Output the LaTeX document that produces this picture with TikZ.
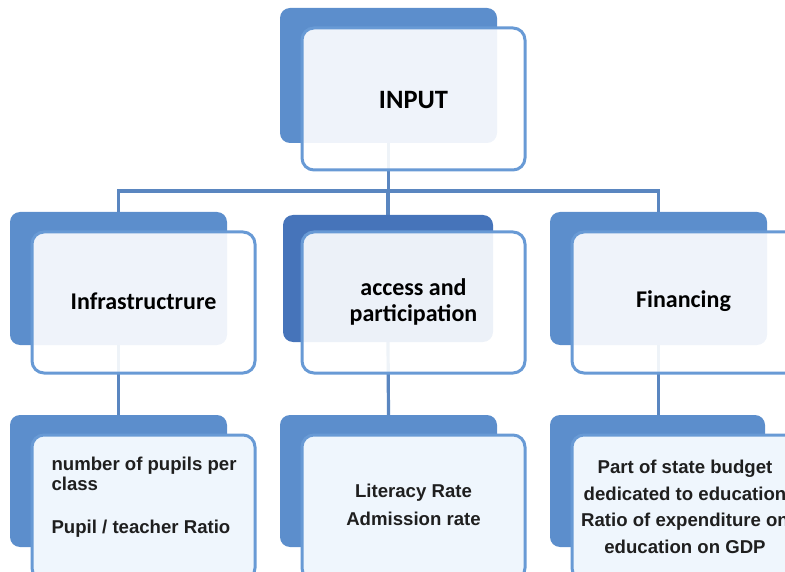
\documentclass[tikz,border=0pt]{standalone}
\usepackage{fontspec}
\setmainfont{Carlito}
\newfontfamily\arialb{Liberation Sans}
\begin{document}
\begin{tikzpicture}[x=1pt,y=-1pt]
\definecolor{backblue}{RGB}{92,142,204}
\definecolor{darkblue}{RGB}{70,116,186}
\definecolor{edgeblue}{RGB}{104,154,213}
\definecolor{linkblue}{RGB}{90,134,192}
\definecolor{paleblue}{RGB}{239,246,253}
\tikzset{
  backbox/.style={fill=backblue,draw=none,rounded corners=10pt},
  frontbox/.style={fill=white,fill opacity=0.9,draw=edgeblue,draw opacity=1,line width=3pt,rounded corners=12pt},
  lowbox/.style={fill=paleblue,draw=edgeblue,line width=3pt,rounded corners=12pt},
  conn/.style={draw=linkblue,line width=3.2pt},
  headtxt/.style={font=\bfseries\fontsize{24}{26}\selectfont,align=center,text=black},
  lowtxt/.style={font=\arialb\bfseries\fontsize{18.6}{27.5}\selectfont,align=center,text=black!88},
}
\useasboundingbox (0,0) rectangle (785,572);
\coordinate (hub) at (388,191);
\coordinate (tb) at (388.5,143);
\coordinate (lbs) at (118.5,345);
\coordinate (lbn) at (118.5,212);
\coordinate (mbs) at (388,342);
\coordinate (mbn) at (388,215);
\coordinate (rbs) at (658.5,345);
\coordinate (rbn) at (658.5,212);
\coordinate (l3n) at (118.5,415);
\coordinate (m3n) at (388.5,415);
\coordinate (r3n) at (658.5,415);
% connectors (drawn first, behind boxes)
\draw[conn] (tb) -- (tb |- hub);
\draw[conn,line cap=rect] (lbn |- hub) -- (rbn |- hub);
\draw[conn] (lbn |- hub) -- (lbn);
\draw[conn] (mbn |- hub) -- (mbn);
\draw[conn] (rbn |- hub) -- (rbn);
\draw[conn] (lbs) -- (l3n);
\draw[conn] (mbs) -- (m3n);
\draw[conn] (rbs) -- (r3n);
% top
\path[backbox] (280,8) rectangle (497,143);
\path[frontbox] (302,28) rectangle (525,170);
\node[headtxt,font=\bfseries\fontsize{26.5}{29}\selectfont] (input) at (413.5,100) {INPUT};
% second row
\path[backbox] (10,212) rectangle (227,345);
\path[frontbox] (32,232) rectangle (255,373);
\node[headtxt] (infra) at (143.5,301) {Infrastructrure};
\path[backbox,fill=darkblue] (283,215) rectangle (493,342);
\path[frontbox] (302,232) rectangle (525,373);
\node[headtxt] (access) at (413.5,302) {access and\\participation};
\path[backbox] (550,212) rectangle (767,345);
\path[frontbox] (572,232) rectangle (800,373);
\node[headtxt] (fin) at (683.5,301) {Financing};
% third row
\path[backbox] (10,415) rectangle (227,547);
\path[lowbox] (32,435) rectangle (255,580);
\node[lowtxt,align=left,anchor=west] (pupils) at (48,497) {number of pupils per\\[-7.5pt]class\\[16pt]Pupil / teacher Ratio};
\path[backbox] (280,415) rectangle (497,547);
\path[lowbox] (302,435) rectangle (525,580);
\node[lowtxt] (lit) at (413.5,505) {Literacy Rate\\Admission rate};
\path[backbox] (550,415) rectangle (765,547);
\path[lowbox] (572,435) rectangle (800,580);
\node[lowtxt,font=\arialb\bfseries\fontsize{18.6}{26.5}\selectfont] (budget) at (685,507) {Part of state budget\\dedicated to education\\Ratio of expenditure on\\education on GDP};
\end{tikzpicture}
\end{document}
